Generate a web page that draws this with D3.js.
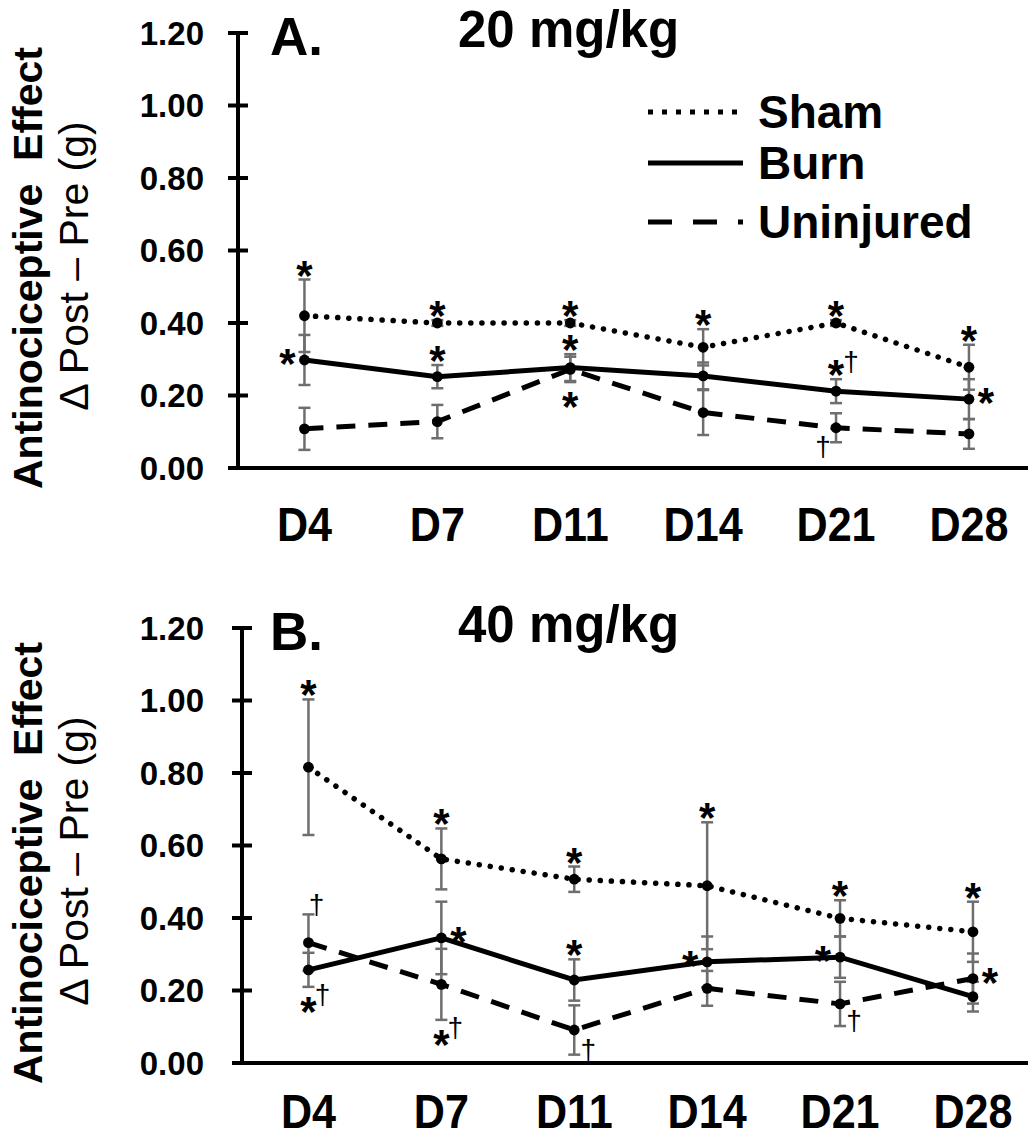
<!DOCTYPE html>
<html>
<head>
<meta charset="utf-8">
<script src="https://cdn.jsdelivr.net/npm/d3@7"></script>
<style>
  body { margin: 0; background: #fff; }
  svg text { font-family: "Liberation Sans", Arial, sans-serif; fill: #000; }
</style>
</head>
<body>
<div id="chart"></div>
<script>
// days on the x axis
var days = ["D4", "D7", "D11", "D14", "D21", "D28"];
var yTicks = [0, 0.2, 0.4, 0.6, 0.8, 1.0, 1.2];

// panel A - 20 mg/kg
var shamA = [0.420, 0.400, 0.400, 0.333, 0.400, 0.278];
var shamA_err = [0.100, 0.008, 0.008, 0.050, 0.008, 0.062];
var burnA = [0.298, 0.252, 0.277, 0.254, 0.212, 0.190];
var burnA_err = [0.069, 0.032, 0.037, 0.037, 0.033, 0.055];
var uninjA = [0.108, 0.128, 0.272, 0.153, 0.111, 0.094];
var uninjA_err = [0.058, 0.046, 0.035, 0.062, 0.040, 0.041];

// panel B - 40 mg/kg
var shamB = [0.816, 0.563, 0.507, 0.489, 0.399, 0.362];
var shamB_err = [0.187, 0.084, 0.035, 0.175, 0.050, 0.083];
var burnB = [0.257, 0.345, 0.229, 0.279, 0.292, 0.183];
var burnB_err = [0.047, 0.100, 0.057, 0.070, 0.057, 0.041];
var uninjB = [0.332, 0.217, 0.091, 0.206, 0.163, 0.233];
var uninjB_err = [0.078, 0.098, 0.068, 0.048, 0.061, 0.069];

// significance marks: series, day, mark, where
var marksA = [
  ["sham", "D4", "*", "top"], ["burn", "D4", "*", "left"],
  ["sham", "D7", "*", "top"], ["burn", "D7", "*", "top"],
  ["sham", "D11", "*", "top"], ["burn", "D11", "*", "top"], ["uninj", "D11", "*", "bottom"],
  ["sham", "D14", "*", "top"],
  ["sham", "D21", "*", "top"], ["burn", "D21", "*†", "top"], ["uninj", "D21", "†", "bottomLeft"],
  ["sham", "D28", "*", "top"], ["burn", "D28", "*", "right"]
];
var marksB = [
  ["sham", "D4", "*", "top"], ["uninj", "D4", "†", "topRight"], ["burn", "D4", "*†", "bottom"],
  ["sham", "D7", "*", "top"], ["burn", "D7", "*", "right"], ["uninj", "D7", "*†", "bottom"],
  ["sham", "D11", "*", "top"], ["burn", "D11", "*", "top"], ["uninj", "D11", "†", "bottomRight"],
  ["sham", "D14", "*", "top"], ["burn", "D14", "*", "left"],
  ["sham", "D21", "*", "top"], ["burn", "D21", "*", "left"], ["uninj", "D21", "†", "bottomRight"],
  ["sham", "D28", "*", "top"], ["uninj", "D28", "*", "right"]
];

var legendNames = ["Sham", "Burn", "Uninjured"];

var styles = {
  sham: { dash: "0.1 11", width: 5.5, cap: "round" },
  burn: { dash: null, width: 5, cap: "butt" },
  uninj: { dash: "19 13", width: 5, cap: "butt" }
};

var svg = d3.select("#chart").append("svg")
  .attr("width", 1028)
  .attr("height", 1139);

function drawPanel(p) {
  var g = svg.append("g");

  var x = d3.scaleBand().domain(days).range([p.axisX, p.axisX + 6 * 132.9]);
  var y = d3.scaleLinear().domain([0, 1.2]).range([p.y0, p.y0 - 435]);
  var cx = function(d) { return x(d) + x.bandwidth() / 2; };

  // y axis
  g.append("line")
    .attr("x1", p.axisX).attr("x2", p.axisX)
    .attr("y1", y(1.2)).attr("y2", y(0))
    .attr("stroke", "#000").attr("stroke-width", 4);
  g.selectAll(".ytick").data(yTicks).enter().append("line")
    .attr("x1", p.axisX - 10).attr("x2", p.axisX + 10)
    .attr("y1", function(d) { return y(d); })
    .attr("y2", function(d) { return y(d); })
    .attr("stroke", "#000").attr("stroke-width", 4);
  g.selectAll(".ylab").data(yTicks).enter().append("text")
    .attr("x", 204)
    .attr("y", function(d) { return y(d); })
    .attr("dy", "0.36em")
    .attr("text-anchor", "end")
    .style("font-size", "33px").style("font-weight", "bold")
    .text(function(d) { return d3.format(".2f")(d); });

  // x axis
  g.append("line")
    .attr("x1", p.axisX - 2).attr("x2", 1030)
    .attr("y1", y(0)).attr("y2", y(0))
    .attr("stroke", "#000").attr("stroke-width", 4);
  g.selectAll(".xlab").data(days).enter().append("text")
    .attr("transform", function(d) {
      return "translate(" + cx(d) + "," + (y(0) + p.xlabOff) + ") scale(0.88,1)";
    })
    .attr("text-anchor", "middle")
    .style("font-size", "49px").style("font-weight", "bold")
    .text(function(d) { return d; });

  // y label (two lines)
  var ymid = p.y0 - 200;
  g.append("text")
    .attr("transform", "translate(42," + ymid + ") rotate(-90)")
    .attr("text-anchor", "middle")
    .style("font-size", "41px").style("font-weight", "bold")
    .text("Antinociceptive\u00a0 Effect");
  g.append("text")
    .attr("transform", "translate(88," + (ymid - 2) + ") rotate(-90)")
    .attr("text-anchor", "middle")
    .style("font-size", "41px")
    .text("\u0394 Post \u2013 Pre (g)");

  // titles
  g.append("text")
    .attr("x", 270).attr("y", p.y0 - 413)
    .style("font-size", "53px").style("font-weight", "bold")
    .text(p.letter);
  g.append("text")
    .attr("x", 458).attr("y", p.y0 - 421)
    .style("font-size", "51px").style("font-weight", "bold")
    .text(p.title);

  var series = ["sham", "burn", "uninj"].map(function(k) {
    return {
      key: k,
      pts: days.map(function(d, i) {
        return { day: d, v: p.vals[k][i], e: p.errs[k][i] };
      })
    };
  });

  // error bars
  series.forEach(function(s) {
    var eb = g.append("g").attr("stroke", "#6e6e6e").attr("stroke-width", 2.5);
    s.pts.forEach(function(d) {
      var xx = cx(d.day);
      eb.append("line").attr("x1", xx).attr("x2", xx)
        .attr("y1", y(d.v + d.e)).attr("y2", y(d.v - d.e));
      [d.v + d.e, d.v - d.e].forEach(function(v) {
        eb.append("line").attr("x1", xx - 6).attr("x2", xx + 6)
          .attr("y1", y(v)).attr("y2", y(v));
      });
    });
  });

  // lines
  var line = d3.line()
    .x(function(d) { return cx(d.day); })
    .y(function(d) { return y(d.v); });
  series.forEach(function(s) {
    var st = styles[s.key];
    g.append("path")
      .datum(s.pts)
      .attr("d", line)
      .attr("fill", "none")
      .attr("stroke", "#000")
      .attr("stroke-width", st.width)
      .attr("stroke-linecap", st.cap)
      .attr("stroke-dasharray", st.dash);
  });

  // markers
  series.forEach(function(s) {
    g.selectAll(null).data(s.pts).enter().append("circle")
      .attr("cx", function(d) { return cx(d.day); })
      .attr("cy", function(d) { return y(d.v); })
      .attr("r", 5.4)
      .attr("fill", "#000");
  });

  // significance marks
  var lookup = {};
  series.forEach(function(s) {
    lookup[s.key] = {};
    s.pts.forEach(function(d) { lookup[s.key][d.day] = d; });
  });
  function star(px, py) {
    g.append("text").attr("x", px).attr("y", py + 24)
      .attr("text-anchor", "middle")
      .style("font-size", "42px").style("font-weight", "bold")
      .text("*");
  }
  function dagger(px, py) {
    g.append("text").attr("x", px).attr("y", py + 8)
      .attr("text-anchor", "middle")
      .style("font-size", "28px")
      .text("\u2020");
  }
  p.marks.forEach(function(m) {
    var d = lookup[m[0]][m[1]];
    var xx = cx(m[1]);
    var yTop = y(d.v + d.e), yBot = y(d.v - d.e), yv = y(d.v);
    var hasDag = m[2].indexOf("\u2020") >= 0;
    if (m[3] === "top") {
      star(xx, yTop - 14);
      if (hasDag) dagger(xx + 15, yTop - 16);
    } else if (m[3] === "bottom") {
      star(xx, yBot + 15);
      if (hasDag) dagger(xx + 14, yBot + 9);
    } else if (m[3] === "left") {
      star(xx - 17, yv - 6);
    } else if (m[3] === "right") {
      star(xx + 17, yv - 6);
    } else if (m[3] === "topRight") {
      dagger(xx + 8, yTop - 8);
    } else if (m[3] === "bottomLeft") {
      dagger(xx - 13, yBot + 6);
    } else if (m[3] === "bottomRight") {
      dagger(xx + 14, yBot - 4);
    }
  });
}

drawPanel({
  axisX: 238, y0: 468, xlabOff: 73, letter: "A.", title: "20 mg/kg",
  vals: { sham: shamA, burn: burnA, uninj: uninjA },
  errs: { sham: shamA_err, burn: burnA_err, uninj: uninjA_err },
  marks: marksA
});
drawPanel({
  axisX: 242, y0: 1063, xlabOff: 65, letter: "B.", title: "40 mg/kg",
  vals: { sham: shamB, burn: burnB, uninj: uninjB },
  errs: { sham: shamB_err, burn: burnB_err, uninj: uninjB_err },
  marks: marksB
});

// legend (panel A)
var legDash = ["5 9", null, "24 21 24 21 5 200"];
var legY = [112, 163, 222];
var leg = svg.append("g");
legendNames.forEach(function(n, i) {
  leg.append("line")
    .attr("x1", 648).attr("x2", 743)
    .attr("y1", legY[i]).attr("y2", legY[i])
    .attr("stroke", "#000").attr("stroke-width", 5)
    .attr("stroke-dasharray", legDash[i]);
  leg.append("text")
    .attr("x", 758).attr("y", legY[i] + 16)
    .style("font-size", "46px").style("font-weight", "bold")
    .text(n);
});
</script>
</body>
</html>
